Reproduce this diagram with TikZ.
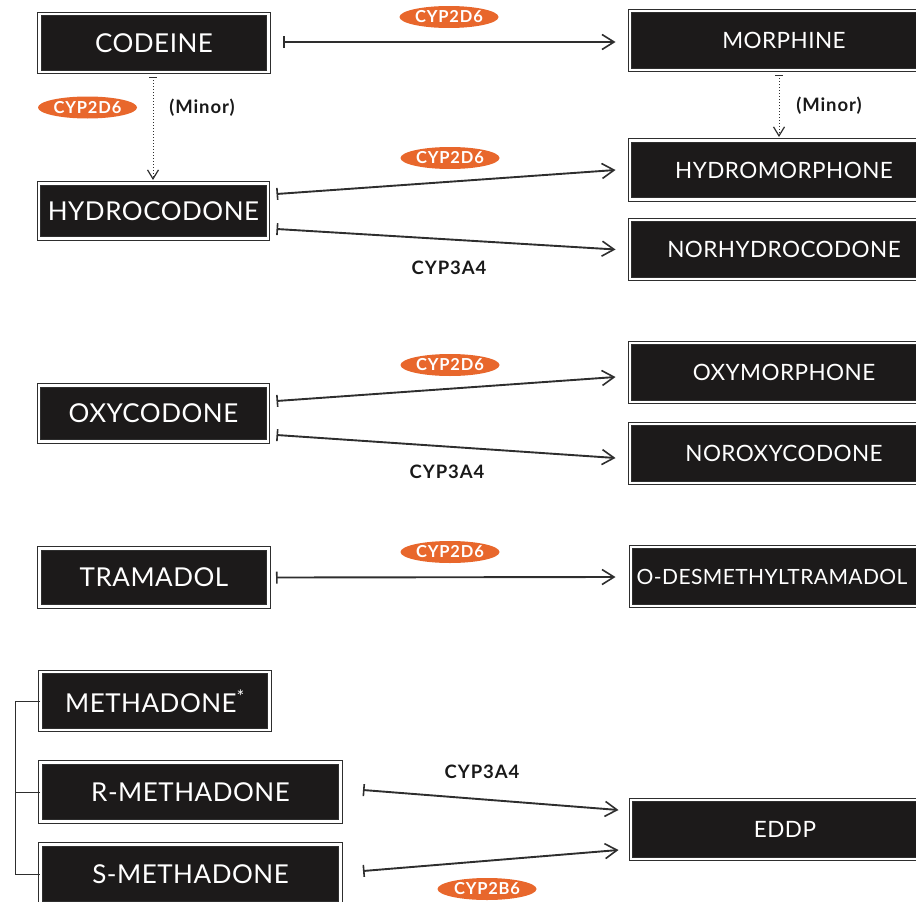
\documentclass[tikz,border=0pt]{standalone}
\usepackage{fontspec}
\setmainfont{Lato}
\newfontfamily\boxfont[LetterSpace=2]{Lato}
\newfontfamily\lblfont[LetterSpace=5]{Lato}
\usetikzlibrary{arrows.meta,shapes.geometric,calc}
\definecolor{cypor}{HTML}{E8672C}
\definecolor{boxbg}{HTML}{1C1A1A}
\definecolor{linec}{HTML}{2E2E2E}
\tikzset{
  box/.style={fill=boxbg, draw=linec, double=white, double distance=2.6pt, line width=1pt,
    text=white, inner sep=0pt, font=\boxfont\fontsize{26}{26}\selectfont},
  lbox/.style={box, minimum width=229pt, minimum height=58pt},
  rbox/.style={box, minimum width=308pt, minimum height=59pt, font=\boxfont\fontsize{22.5}{22.5}\selectfont},
  mbox/.style={box, minimum width=300pt, minimum height=59pt},
  arr/.style={draw=linec, line width=1.9pt, {Bar[width=12pt,line width=1.6pt]}-{Straight Barb[length=12pt,width=15pt,line width=1.6pt]}},
  darr/.style={draw=linec, line width=1pt, dotted, {Bar[width=8pt,line width=1.2pt]}-{Straight Barb[length=9pt,width=11pt,line width=1.2pt]}},
  cyp/.style={ellipse, fill=cypor, text=white, inner sep=0pt, minimum width=99pt, minimum height=22pt,
    font=\lblfont\bfseries\fontsize{16.5}{16.5}\selectfont},
  lbl/.style={text=black!90, inner sep=0pt, font=\lblfont\bfseries\fontsize{18.5}{18.5}\selectfont},
}
\begin{document}
\begin{tikzpicture}[x=1pt,y=-1pt]
\useasboundingbox (0,0) rectangle (916,902);
\clip (0,0) rectangle (916,902);
% left boxes
\node[lbox] (codeine) at (154,43) {CODEINE};
\node[lbox, minimum height=55pt] (hydrocodone) at (153.5,211) {HYDROCODONE};
\node[lbox, minimum height=56pt] (oxycodone) at (153.5,413.5) {OXYCODONE};
\node[lbox] (tramadol) at (154,577.5) {TRAMADOL};
\node[lbox] (methadone) at (155,701) {METHADONE\textsuperscript{*}};
\node[mbox] (rmeth) at (190.5,792) {R-METHADONE};
\node[mbox] (smeth) at (190.5,874) {S-METHADONE};
% right boxes
\node[rbox] (morphine) at (784,40.5) {MORPHINE};
\node[rbox] (hydromorphone) at (784,170) {HYDROMORPHONE};
\node[rbox] (norhydrocodone) at (784,249.5) {NORHYDROCODONE};
\node[rbox] (oxymorphone) at (784,372.5) {OXYMORPHONE};
\node[rbox] (noroxycodone) at (784,453.5) {NOROXYCODONE};
\node[rbox, font=\boxfont\fontsize{21}{21}\selectfont] (odesmethyl) at (785,576.5) {\hspace*{-26pt}O-DESMETHYLTRAMADOL};
\node[rbox] (eddp) at (785,829.5) {EDDP};
% arrows
\draw[arr] ([shift={(14,-1)}]codeine.east) -- ([shift={(-14,1.5)}]morphine.west);
\draw[darr] ([shift={(-1,4)}]codeine.south) -- ([shift={(-0.5,-3)}]hydrocodone.north);
\draw[arr] ([shift={(8,-17)}]hydrocodone.east) -- ([shift={(-14,0)}]hydromorphone.west);
\draw[arr] ([shift={(8,18)}]hydrocodone.east) -- ([shift={(-14,0)}]norhydrocodone.west);
\draw[darr] ([shift={(-5,4)}]morphine.south) -- ([shift={(-5,-3)}]hydromorphone.north);
\draw[arr] ([shift={(8,-12.5)}]oxycodone.east) -- ([shift={(-14,4.5)}]oxymorphone.west);
\draw[arr] ([shift={(8,21.5)}]oxycodone.east) -- ([shift={(-14,4.5)}]noroxycodone.west);
\draw[arr] ([shift={(7,0)}]tramadol.east) -- ([shift={(-15,0.5)}]odesmethyl.west);
\draw[arr] ([shift={(22,-2)}]rmeth.east) -- ([shift={(-12,-19.5)}]eddp.west);
\draw[arr] ([shift={(22,-3)}]smeth.east) -- ([shift={(-12,20.5)}]eddp.west);
% bracket
\draw[draw=linec, line width=1pt] (methadone.west) -- ++(-25,0) |- (smeth.west);
\draw[draw=linec, line width=1pt] (rmeth.west) -- ++(-25,0);
% labels
\node[cyp] (c1) at (449,17) {CYP2D6};
\node[cyp] (c2) at (87.5,107.5) {CYP2D6};
\node[lbl] (m1) at (202,108) {(Minor)};
\node[lbl] (m2) at (829,106) {(Minor)};
\node[cyp] (c3) at (450,158) {CYP2D6};
\node[lbl] (k1) at (449,268) {CYP3A4};
\node[cyp] (c4) at (450,365) {CYP2D6};
\node[lbl] (k2) at (447,472) {CYP3A4};
\node[cyp] (c5) at (450,552) {CYP2D6};
\node[lbl] (k3) at (482,772) {CYP3A4};
\node[cyp] (c6) at (487,889) {CYP2B6};
\end{tikzpicture}
\end{document}
